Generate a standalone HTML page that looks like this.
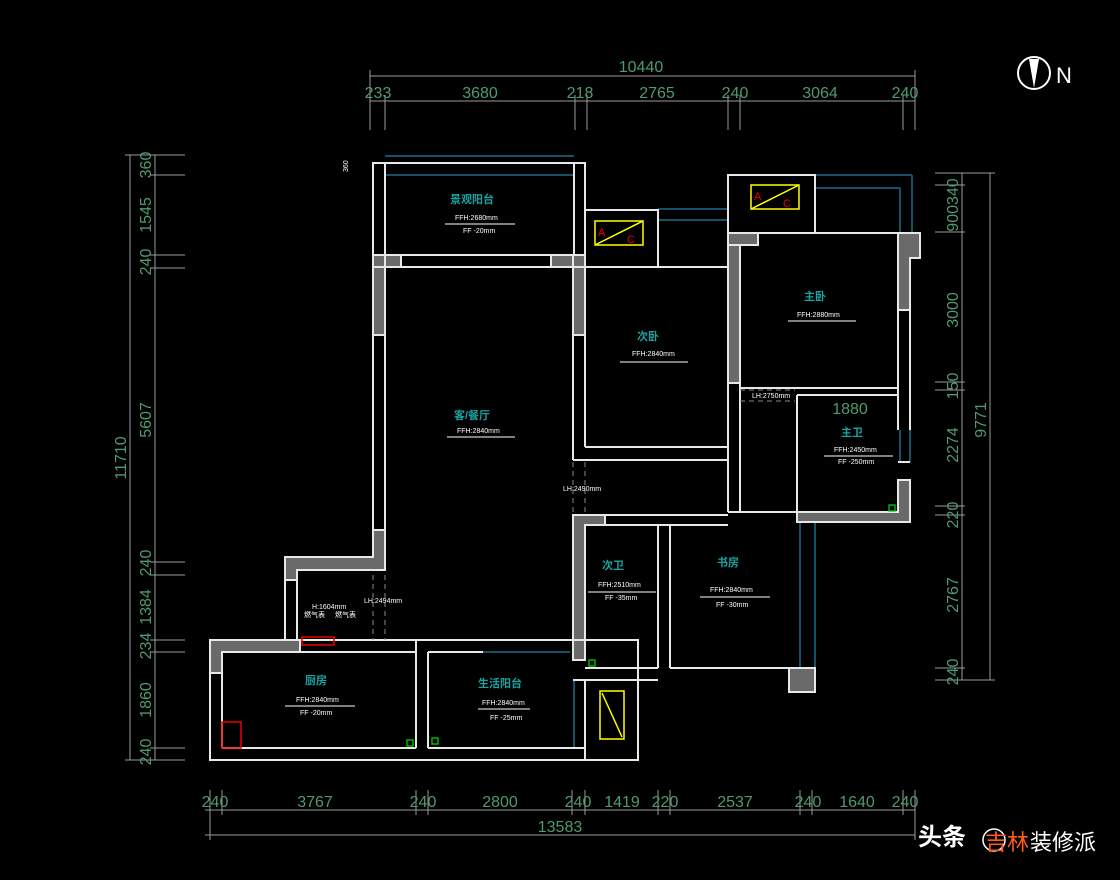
<!DOCTYPE html>
<html><head><meta charset="utf-8"><style>
html,body{margin:0;padding:0;background:#000;}
svg{display:block}
.d{fill:#4f9a6e;font-family:"Liberation Sans",sans-serif;font-size:16px}
.w{fill:none;stroke:#e8e8e8;stroke-width:2}
.g{fill:#6a6a6a;stroke:#e8e8e8;stroke-width:2}
.dl{stroke:#9a9a9a;stroke-width:1;fill:none}
.c{fill:#17a3a3;font-family:"Liberation Sans","Noto Sans CJK SC",sans-serif;font-size:11px;font-weight:bold}
.s{fill:#fff;font-family:"Liberation Sans",sans-serif;font-size:7px}
.b{stroke:#1a6a8a;stroke-width:1.5;fill:none}
</style></head><body>
<svg width="1120" height="880" viewBox="0 0 1120 880" xmlns="http://www.w3.org/2000/svg">
<!-- top dims -->
<g class="dl">
<line x1="370" y1="76" x2="915" y2="76"/><line x1="370" y1="101" x2="915" y2="101"/>
<line x1="370" y1="70" x2="370" y2="130"/><line x1="915" y1="70" x2="915" y2="130"/>
<line x1="385" y1="95" x2="385" y2="130"/><line x1="575" y1="95" x2="575" y2="130"/><line x1="587" y1="95" x2="587" y2="130"/>
<line x1="728" y1="95" x2="728" y2="130"/><line x1="740" y1="95" x2="740" y2="130"/><line x1="903" y1="95" x2="903" y2="130"/>
<!-- left -->
<line x1="130" y1="155" x2="130" y2="760"/><line x1="155" y1="155" x2="155" y2="760"/>
<line x1="125" y1="155" x2="185" y2="155"/><line x1="150" y1="175" x2="185" y2="175"/><line x1="150" y1="255" x2="185" y2="255"/><line x1="150" y1="268" x2="185" y2="268"/>
<line x1="150" y1="562" x2="185" y2="562"/><line x1="150" y1="575" x2="185" y2="575"/><line x1="150" y1="640" x2="185" y2="640"/><line x1="150" y1="652" x2="185" y2="652"/>
<line x1="150" y1="748" x2="185" y2="748"/><line x1="125" y1="760" x2="185" y2="760"/>
<!-- right -->
<line x1="962" y1="173" x2="962" y2="680"/><line x1="990" y1="173" x2="990" y2="680"/>
<line x1="935" y1="173" x2="995" y2="173"/><line x1="935" y1="185" x2="965" y2="185"/><line x1="935" y1="232" x2="965" y2="232"/><line x1="935" y1="382" x2="965" y2="382"/><line x1="935" y1="390" x2="965" y2="390"/>
<line x1="935" y1="506" x2="965" y2="506"/><line x1="935" y1="515" x2="965" y2="515"/><line x1="935" y1="668" x2="965" y2="668"/><line x1="935" y1="680" x2="995" y2="680"/>
<!-- bottom -->
<line x1="205" y1="810" x2="915" y2="810"/><line x1="205" y1="835" x2="915" y2="835"/>
<line x1="210" y1="790" x2="210" y2="840"/><line x1="222" y1="790" x2="222" y2="815"/><line x1="416" y1="790" x2="416" y2="815"/><line x1="428" y1="790" x2="428" y2="815"/>
<line x1="572" y1="790" x2="572" y2="815"/><line x1="585" y1="790" x2="585" y2="815"/><line x1="658" y1="790" x2="658" y2="815"/><line x1="670" y1="790" x2="670" y2="815"/>
<line x1="800" y1="790" x2="800" y2="815"/><line x1="812" y1="790" x2="812" y2="815"/><line x1="903" y1="790" x2="903" y2="815"/><line x1="915" y1="790" x2="915" y2="840"/>
</g>
<text class="d" x="641" y="72" text-anchor="middle">10440</text>
<g class="d" text-anchor="middle">
<text x="378" y="98">233</text><text x="480" y="98">3680</text><text x="580" y="98">218</text><text x="657" y="98">2765</text><text x="735" y="98">240</text><text x="820" y="98">3064</text><text x="905" y="98">240</text>
<text x="215" y="807">240</text><text x="315" y="807">3767</text><text x="423" y="807">240</text><text x="500" y="807">2800</text><text x="578" y="807">240</text><text x="622" y="807">1419</text><text x="665" y="807">220</text><text x="735" y="807">2537</text><text x="808" y="807">240</text><text x="857" y="807">1640</text><text x="905" y="807">240</text>
<text x="560" y="832">13583</text>
</g>
<g class="d" text-anchor="middle">
<text transform="translate(151,165) rotate(-90)">360</text><text transform="translate(151,215) rotate(-90)">1545</text><text transform="translate(151,262) rotate(-90)">240</text>
<text transform="translate(151,420) rotate(-90)">5607</text><text transform="translate(151,563) rotate(-90)">240</text><text transform="translate(151,607) rotate(-90)">1384</text>
<text transform="translate(151,646) rotate(-90)">234</text><text transform="translate(151,700) rotate(-90)">1860</text><text transform="translate(151,752) rotate(-90)">240</text>
<text transform="translate(126,458) rotate(-90)">11710</text>
<text transform="translate(958,205) rotate(-90)">900340</text><text transform="translate(958,310) rotate(-90)">3000</text><text transform="translate(958,386) rotate(-90)">150</text>
<text transform="translate(958,445) rotate(-90)">2274</text><text transform="translate(958,515) rotate(-90)">220</text><text transform="translate(958,595) rotate(-90)">2767</text><text transform="translate(958,672) rotate(-90)">240</text>
<text transform="translate(986,420) rotate(-90)">9771</text>
<text x="850" y="414">1880</text>
</g>
<text class="s" transform="translate(348,172) rotate(-90)">360</text>
<!-- North -->
<circle cx="1034" cy="73" r="16" fill="none" stroke="#fff" stroke-width="2"/>
<path d="M1029 59 L1034 88 L1039 59 Z" fill="#fff"/>
<text x="1056" y="83" fill="#fff" font-family="Liberation Sans" font-size="22">N</text>
<!-- blue window lines -->
<g class="b">
<line x1="385" y1="156" x2="574" y2="156"/><line x1="385" y1="175" x2="574" y2="175"/>
<line x1="658" y1="209" x2="728" y2="209"/><line x1="658" y1="220" x2="728" y2="220"/>
<line x1="815" y1="175" x2="912" y2="175"/><line x1="912" y1="175" x2="912" y2="233"/><line x1="815" y1="188" x2="900" y2="188"/><line x1="900" y1="188" x2="900" y2="233"/>
<line x1="800" y1="522" x2="800" y2="668"/><line x1="815" y1="522" x2="815" y2="668"/>
<line x1="900" y1="430" x2="900" y2="462"/><line x1="910" y1="430" x2="910" y2="462"/>
<line x1="483" y1="640" x2="570" y2="640"/><line x1="483" y1="652" x2="570" y2="652"/>
<line x1="574" y1="680" x2="574" y2="748"/><line x1="585" y1="680" x2="585" y2="748"/>
<line x1="416" y1="696" x2="416" y2="733"/><line x1="428" y1="696" x2="428" y2="733"/>
<line x1="620" y1="668" x2="655" y2="668"/><line x1="620" y1="680" x2="655" y2="680"/>
</g>
<!-- gray walls -->
<g class="g">
<rect x="373" y="255" width="28" height="12"/><rect x="373" y="255" width="12" height="80"/>
<rect x="551" y="255" width="34" height="12"/><rect x="573" y="255" width="12" height="80"/>
<path d="M373 530 L385 530 L385 570 L297 570 L297 580 L285 580 L285 557 L373 557 Z"/>
<path d="M210 640 L300 640 L300 652 L222 652 L222 673 L210 673 Z"/>
<rect x="728" y="233" width="12" height="150"/><rect x="728" y="233" width="30" height="12"/>
<path d="M898 233 L920 233 L920 258 L910 258 L910 310 L898 310 Z"/>
<path d="M797 512 L898 512 L898 480 L910 480 L910 522 L797 522 Z"/>
<path d="M573 515 L605 515 L605 525 L585 525 L585 660 L573 660 Z"/>
<rect x="789" y="668" width="26" height="24"/>
</g>
<!-- white wall outlines -->
<g class="w">
<rect x="373" y="163" width="212" height="104"/><line x1="385" y1="163" x2="385" y2="255"/><line x1="574" y1="163" x2="574" y2="255"/>
<line x1="401" y1="255" x2="551" y2="255"/><line x1="401" y1="267" x2="551" y2="267"/>
<line x1="385" y1="267" x2="385" y2="557"/><line x1="373" y1="335" x2="373" y2="530"/>
<line x1="573" y1="335" x2="573" y2="460"/><line x1="585" y1="267" x2="585" y2="447"/>
<line x1="585" y1="447" x2="728" y2="447"/><line x1="573" y1="460" x2="728" y2="460"/><line x1="728" y1="447" x2="728" y2="462"/>
<rect x="585" y="210" width="73" height="57"/><line x1="585" y1="267" x2="728" y2="267"/>
<rect x="728" y="175" width="87" height="58"/><line x1="740" y1="233" x2="898" y2="233"/>
<line x1="740" y1="245" x2="740" y2="512"/><line x1="728" y1="383" x2="728" y2="512"/>
<line x1="740" y1="388" x2="898" y2="388"/><line x1="797" y1="395" x2="797" y2="512"/><line x1="797" y1="395" x2="898" y2="395"/><line x1="898" y1="310" x2="898" y2="430"/>
<line x1="910" y1="310" x2="910" y2="430"/><line x1="898" y1="462" x2="910" y2="462"/>
<line x1="728" y1="512" x2="797" y2="512"/><line x1="605" y1="515" x2="728" y2="515"/><line x1="605" y1="525" x2="728" y2="525"/>
<line x1="658" y1="525" x2="658" y2="668"/><line x1="670" y1="525" x2="670" y2="668"/><line x1="670" y1="668" x2="789" y2="668"/>
<line x1="585" y1="668" x2="658" y2="668"/><line x1="573" y1="680" x2="658" y2="680"/>
<line x1="285" y1="580" x2="285" y2="640"/><line x1="297" y1="580" x2="297" y2="640"/>
<rect x="210" y="640" width="428" height="120"/>
<line x1="222" y1="673" x2="222" y2="748"/><line x1="222" y1="748" x2="416" y2="748"/><line x1="300" y1="652" x2="416" y2="652"/>
<line x1="416" y1="640" x2="416" y2="748"/><line x1="428" y1="652" x2="428" y2="748"/><line x1="428" y1="652" x2="483" y2="652"/><line x1="428" y1="748" x2="585" y2="748"/>
<line x1="585" y1="680" x2="585" y2="760"/><line x1="638" y1="680" x2="638" y2="760"/>
</g>
<g stroke="#888" stroke-dasharray="5,4" fill="none"><line x1="373" y1="575" x2="373" y2="640"/><line x1="385" y1="575" x2="385" y2="640"/><line x1="573" y1="462" x2="573" y2="515"/><line x1="585" y1="462" x2="585" y2="515"/><line x1="740" y1="390" x2="795" y2="390"/><line x1="740" y1="401" x2="795" y2="401"/></g>
<!-- AC boxes -->
<g fill="none" stroke="#ff0" stroke-width="1.5">
<rect x="595" y="221" width="48" height="24"/><line x1="595" y1="245" x2="643" y2="221"/>
<rect x="751" y="185" width="48" height="24"/><line x1="751" y1="209" x2="799" y2="185"/>
<rect x="600" y="691" width="24" height="48"/><line x1="602" y1="693" x2="622" y2="737"/>
</g>
<g fill="#e00" font-family="Liberation Sans" font-size="11">
<text x="598" y="236">A</text><text x="627" y="243">C</text><text x="754" y="200">A</text><text x="783" y="207">C</text>
</g>
<rect x="222" y="722" width="19" height="26" fill="none" stroke="#e00" stroke-width="1.5"/>
<rect x="302" y="637" width="32" height="8" fill="none" stroke="#e00" stroke-width="1.5"/>
<g fill="none" stroke="#0c0" stroke-width="1.3"><rect x="407" y="740" width="6" height="6"/><rect x="432" y="738" width="6" height="6"/><rect x="589" y="660" width="6" height="6"/><rect x="889" y="505" width="6" height="6"/></g>
<!-- room labels -->
<g class="c" text-anchor="middle">
<text x="472" y="203">景观阳台</text><text x="648" y="340">次卧</text><text x="472" y="419">客/餐厅</text><text x="815" y="300">主卧</text>
<text x="852" y="436">主卫</text><text x="613" y="569">次卫</text><text x="728" y="566">书房</text><text x="316" y="684">厨房</text><text x="500" y="687">生活阳台</text>
</g>
<g class="s">
<text x="455" y="220">FFH:2680mm</text><text x="463" y="233">FF -20mm</text><line x1="445" y1="224" x2="515" y2="224" stroke="#fff"/>
<text x="632" y="356">FFH:2840mm</text><line x1="620" y1="362" x2="688" y2="362" stroke="#fff"/>
<text x="457" y="433">FFH:2840mm</text><line x1="447" y1="437" x2="515" y2="437" stroke="#fff"/>
<text x="797" y="317">FFH:2880mm</text><line x1="788" y1="321" x2="856" y2="321" stroke="#fff"/>
<text x="834" y="452">FFH:2450mm</text><line x1="824" y1="456" x2="893" y2="456" stroke="#fff"/><text x="838" y="464">FF -250mm</text>
<text x="598" y="587">FFH:2510mm</text><line x1="588" y1="592" x2="656" y2="592" stroke="#fff"/><text x="605" y="600">FF -35mm</text>
<text x="710" y="592">FFH:2840mm</text><line x1="700" y1="597" x2="770" y2="597" stroke="#fff"/><text x="716" y="607">FF -30mm</text>
<text x="296" y="702">FFH:2840mm</text><line x1="285" y1="706" x2="355" y2="706" stroke="#fff"/><text x="300" y="715">FF -20mm</text>
<text x="482" y="705">FFH:2840mm</text><line x1="478" y1="709" x2="530" y2="709" stroke="#fff"/><text x="490" y="720">FF -25mm</text>
<text x="563" y="491">LH:2490mm</text><text x="364" y="603">LH:2494mm</text><text x="752" y="398">LH:2750mm</text>
<text x="312" y="609">H:1604mm</text><text x="304" y="617">燃气表</text><text x="335" y="617">燃气表</text>
</g>
<!-- watermark -->
<text x="918" y="845" fill="#fff" font-family="Noto Sans CJK SC,sans-serif" font-size="24" font-weight="bold">头条</text>
<circle cx="994" cy="840" r="11" fill="none" stroke="#fff" stroke-width="1.5"/>
<text x="985" y="850" fill="#ff5a1a" font-family="Noto Sans CJK SC,sans-serif" font-size="22">吉林</text>
<text x="1030" y="850" fill="#fff" font-family="Noto Sans CJK SC,sans-serif" font-size="22">装修派</text>
</svg>
</body></html>
